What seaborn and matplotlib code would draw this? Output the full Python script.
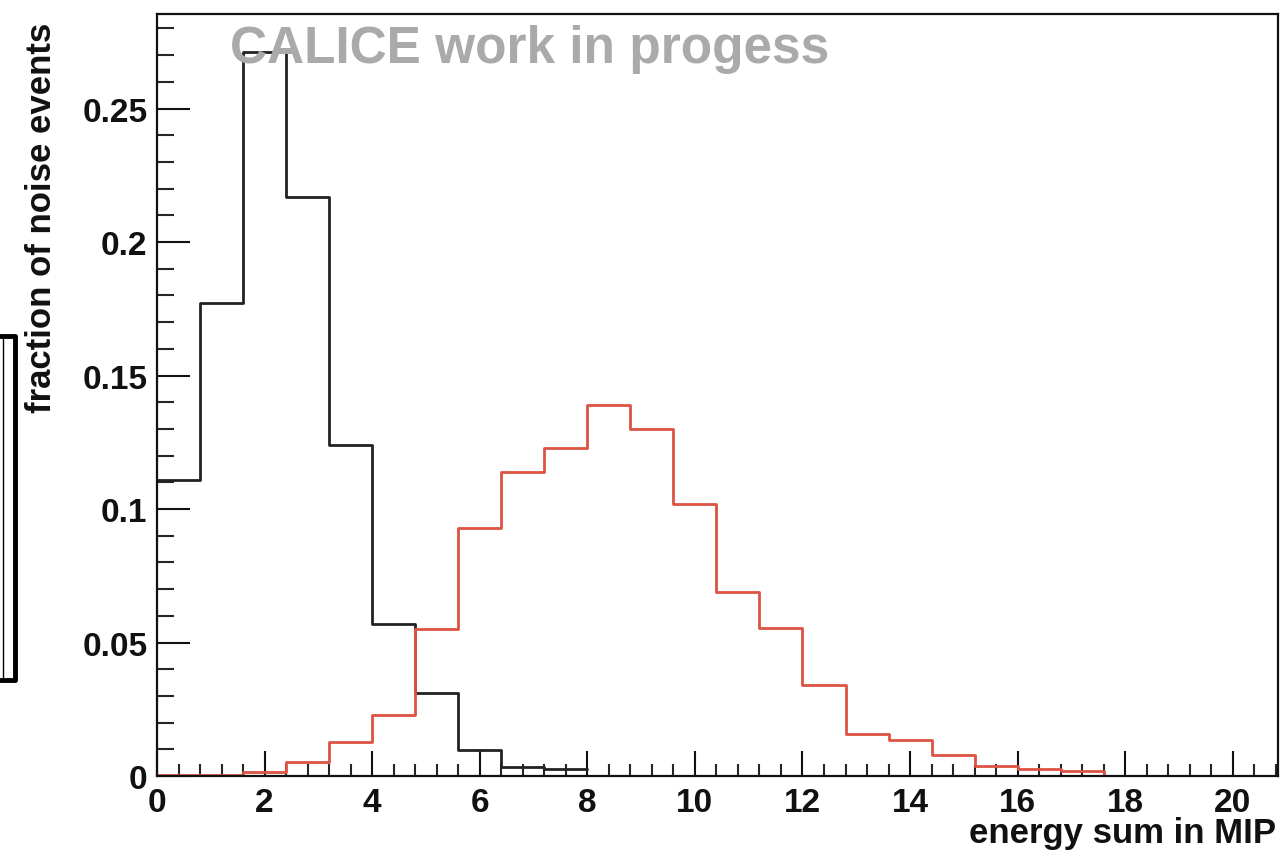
import numpy as np
import pandas as pd
import matplotlib
matplotlib.use("Agg")
import matplotlib.pyplot as plt
import seaborn as sns
from matplotlib.ticker import MultipleLocator
from matplotlib.lines import Line2D

# ---- data ----
bin_width = 0.8
n_bins = 26
bin_edges = [round(i * bin_width, 2) for i in range(n_bins + 1)]

noise_black = [0.111, 0.177, 0.271, 0.217, 0.124, 0.057, 0.031, 0.0097, 0.0034, 0.0026]
signal_red = [0.0003, 0.0005, 0.0015, 0.0052, 0.0127, 0.023, 0.055, 0.093, 0.114, 0.123,
              0.139, 0.130, 0.102, 0.0689, 0.0554, 0.034, 0.0157, 0.0135, 0.0079, 0.0037,
              0.0026, 0.0019, 0.0, 0.0, 0.0, 0.0]

x_ticks = list(range(0, 21, 2))
y_ticks = [0, 0.05, 0.1, 0.15, 0.2, 0.25]
y_tick_labels = ["0", "0.05", "0.1", "0.15", "0.2", "0.25"]
x_label = "energy sum in MIP"
y_label = "fraction of noise events"
watermark = "CALICE work in progess"

# ---- figure ----
sns.set_style("white")
plt.rcParams['font.family'] = ['Liberation Sans', 'DejaVu Sans']
plt.rcParams['font.weight'] = 'bold'

fig = plt.figure(figsize=(12.83, 8.53), dpi=100)
W, H = 1283, 853
ax = fig.add_axes([157 / W, 1 - 777 / H, (1278 - 157) / W, (777 - 15) / H])

centers_b = [bin_edges[i] + bin_width / 2 for i in range(len(noise_black))]
centers_r = [bin_edges[i] + bin_width / 2 for i in range(len(signal_red))]
df_b = pd.DataFrame({"x": centers_b, "w": noise_black})
df_r = pd.DataFrame({"x": centers_r, "w": signal_red})

sns.histplot(data=df_b, x="x", weights="w", bins=bin_edges[:len(noise_black) + 1],
             element="step", fill=False, color="#222222", linewidth=2.0, ax=ax)
sns.histplot(data=df_r, x="x", weights="w", bins=bin_edges,
             element="step", fill=False, color="#dc5343", linewidth=2.0, ax=ax)

ax.set_xlim(0, 20.84)
ax.set_ylim(0, 0.2854)
ax.xaxis.set_minor_locator(MultipleLocator(0.4))
ax.yaxis.set_minor_locator(MultipleLocator(0.01))
ax.set_yticks(y_ticks)
ax.set_yticklabels(y_tick_labels)
ax.set_xticks(x_ticks)
ax.set_xticklabels([str(v) for v in x_ticks])

ax.tick_params(axis='x', which='major', direction='in', length=18, width=1.5,
               labelsize=24, pad=8, colors='#111111')
ax.tick_params(axis='x', which='minor', direction='in', length=9, width=1.5)
ax.tick_params(axis='y', which='major', direction='in', length=24, width=1.5,
               labelsize=24, pad=7, colors='#111111')
ax.tick_params(axis='y', which='minor', direction='in', length=12, width=1.5)
ax.tick_params(which='both', top=False, right=False, bottom=True, left=True)
for s in ax.spines.values():
    s.set_linewidth(1.6)
    s.set_color('#111111')

ax.set_xlabel("")
ax.set_ylabel("")
fig.text(1276 / W, 1 - 834 / H, x_label, ha='right', va='center', fontsize=25,
         fontweight='bold', color='#111111')
fig.text(42 / W, 1 - 218 / H, y_label, ha='center', va='center', rotation=90,
         fontsize=25, fontweight='bold', color='#111111')

ax.text(73 / (1278 - 157), 0.955, watermark, transform=ax.transAxes, ha='left', va='center',
        fontsize=37, fontweight='bold', color='#aaaaaa')

# bracket artifact at left edge
xs = [0 / W, 15 / W, 15 / W, 0 / W]
ys = [1 - 337 / H, 1 - 337 / H, 1 - 681 / H, 1 - 681 / H]
fig.add_artist(Line2D(xs, ys, transform=fig.transFigure, color='black', linewidth=3.5))
fig.add_artist(Line2D([3 / W, 3 / W], [1 - 337 / H, 1 - 681 / H], transform=fig.transFigure,
                      color='black', linewidth=1.0))

fig.savefig("out.png", dpi=100)
